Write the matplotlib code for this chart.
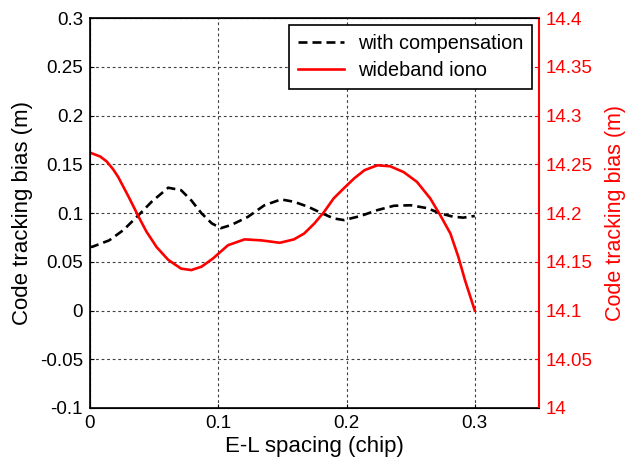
'''Code tracking bias vs E-L spacing, two y axes'''
import matplotlib
matplotlib.use('Agg')
import matplotlib.pyplot as plt

plt.rcParams['font.family'] = ['Liberation Sans', 'DejaVu Sans']

# with compensation (left axis, m)
comp_x = [0.0, 0.002, 0.015, 0.026, 0.038, 0.048, 0.061, 0.071, 0.079, 0.087, 0.095,
          0.102, 0.110, 0.123, 0.136, 0.149, 0.159, 0.170, 0.180, 0.190, 0.198,
          0.211, 0.224, 0.237, 0.250, 0.263, 0.273, 0.283, 0.291, 0.300]
comp_y = [0.065, 0.0655, 0.072, 0.0825, 0.098, 0.1115, 0.126, 0.1235, 0.113, 0.0997, 0.0894,
          0.0845, 0.0877, 0.096, 0.108, 0.114, 0.1116, 0.1065, 0.1003, 0.0945, 0.0928,
          0.097, 0.103, 0.1075, 0.108, 0.105, 0.0997, 0.0963, 0.0953, 0.097]

# wideband iono (right axis, m)
iono_x = [0.0, 0.002, 0.008, 0.013, 0.018, 0.022, 0.030, 0.038, 0.044, 0.052, 0.061, 0.071, 0.079,
          0.087, 0.096, 0.1076, 0.1205, 0.1335, 0.148, 0.159, 0.167, 0.175, 0.1826,
          0.190, 0.198, 0.206, 0.214, 0.224, 0.234, 0.2446, 0.2549, 0.2653, 0.273,
          0.281, 0.2872, 0.2924, 0.300]
iono_y = [14.262, 14.261, 14.258, 14.253, 14.245, 14.237, 14.217, 14.196, 14.181, 14.165, 14.152,
          14.143, 14.1415, 14.145, 14.1535, 14.167, 14.173, 14.172, 14.1695, 14.173, 14.179,
          14.1894, 14.2013, 14.2151, 14.2255, 14.2356, 14.244, 14.249, 14.248, 14.242, 14.232,
          14.215, 14.198, 14.179, 14.155, 14.131, 14.100]

x_ticks = [0, 0.1, 0.2, 0.3]
left_ticks = [-0.1, -0.05, 0, 0.05, 0.1, 0.15, 0.2, 0.25, 0.3]
right_ticks = [14, 14.05, 14.1, 14.15, 14.2, 14.25, 14.3, 14.35, 14.4]

fig = plt.figure(figsize=(6.27, 4.65), dpi=100)
ax = fig.add_axes([0.1435, 0.1226, 0.7160, 0.8384])
l1, = ax.plot(comp_x, comp_y, color='black', linestyle=(0, (3.4, 1.9)), linewidth=1.9,
              label='with compensation')
ax.set_xlim(0, 0.35)
ax.set_ylim(-0.1, 0.3)
ax.set_xticks(x_ticks)
ax.set_xticklabels(['0', '0.1', '0.2', '0.3'])
ax.set_yticks(left_ticks)
ax.set_yticklabels(['-0.1', '-0.05', '0', '0.05', '0.1', '0.15', '0.2', '0.25', '0.3'])
ax.grid(True, color='0.25', linestyle=(0, (2.5, 2.5)), linewidth=0.8)
ax.set_xlabel('E-L spacing (chip)', fontsize=16, labelpad=3)
ax.set_ylabel('Code tracking bias (m)', fontsize=16, labelpad=5)
ax.tick_params(labelsize=13.5, direction='in', length=3, pad=5)
for s in ax.spines.values():
    s.set_linewidth(1.2)

ax2 = ax.twinx()
l2, = ax2.plot(iono_x, iono_y, color='red', linewidth=1.9, label='wideband iono')
ax2.set_ylim(14, 14.4)
ax2.set_yticks(right_ticks)
ax2.set_yticklabels(['14', '14.05', '14.1', '14.15', '14.2', '14.25', '14.3', '14.35', '14.4'])
ax2.tick_params(labelsize=13.5, direction='in', length=3, colors='red', pad=5)
ax2.spines['right'].set_color('red')
ax2.spines['right'].set_linewidth(1.5)
ax2.set_ylabel('Code tracking bias (m)', fontsize=15.5, color='red', labelpad=9)

leg = ax2.legend(handles=[l1, l2], loc='upper right', fontsize=14.3, fancybox=False,
                 framealpha=1, edgecolor='black', borderaxespad=0.35, handlelength=2.3,
                 borderpad=0.45, labelspacing=0.4, handletextpad=0.7)
leg.get_frame().set_linewidth(1.2)

fig.savefig('out.png', dpi=100)
